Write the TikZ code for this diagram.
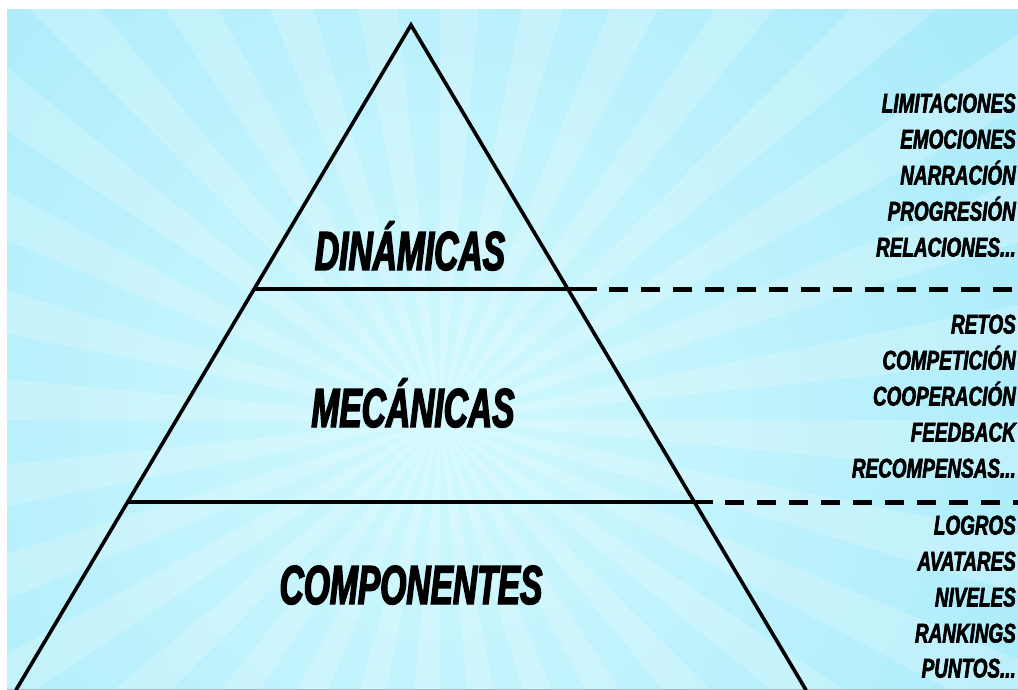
\documentclass[tikz,border=0pt]{standalone}
\usepackage{fontspec}
\newfontfamily\titlefont{Liberation Sans Bold Italic}[FakeStretch=0.61,FakeBold=2.6]
\newfontfamily\labelfont{Liberation Sans Bold Italic}[FakeStretch=0.70,FakeBold=2.2]
\definecolor{bgbase}{HTML}{A6ECFA}
\definecolor{bgcenter}{HTML}{D2F9FF}
\definecolor{bgedge}{HTML}{84DEF5}
\definecolor{rimline}{HTML}{9DBFC8}
\begin{document}
\begin{tikzpicture}[x=1pt,y=-1pt,
  title/.style={font=\titlefont\fontsize{55}{58}\selectfont, anchor=base, inner sep=0pt},
  lbl/.style={font=\labelfont\fontsize{27}{28}\selectfont, anchor=base east, inner sep=0pt},
  side/.style={line width=3.6pt, black, line cap=round},
  sepline/.style={line width=4.2pt, black},
  dashline/.style={line width=5pt, black, dash pattern=on 19pt off 13pt},
  ray/.style={white, opacity=0.2}]
\useasboundingbox (0,0) rectangle (1018,690);
\fill[white] (0,0) rectangle (1018,690);
\begin{scope}
\clip (7,10) rectangle (1018,690);
% background sunburst
\fill[bgbase] (7,10) rectangle (1018,690);
\shade[inner color=bgcenter, outer color=bgedge] (440,420) circle (1300);
\coordinate (c) at (440,420);
\foreach \a in {0,11.25,...,359} {
  \fill[ray] (c) -- +(\a:1500) -- +(\a+5.4:1500) -- cycle;
}
\draw[rimline, line width=1.2pt] (7,689.4) -- (1018,689.4);
% pyramid
\coordinate (apex) at (411,25);
\coordinate (bl) at (16,690);
\coordinate (br) at (806,690);
\coordinate (L1) at (254.2,289);
\coordinate (R1) at (597,289);
\coordinate (D1) at (609,289);
\coordinate (E1) at (1040,289);
\coordinate (L2) at (127.7,502);
\coordinate (R2) at (713,502);
\coordinate (D2) at (725,502);
\coordinate (E2) at (1040,502);
\draw[side] (bl) -- (apex) -- (br);
\draw[sepline] (L1) -- (R1);
\draw[dashline] (D1) -- (E1);
\draw[sepline] (L2) -- (R2);
\draw[dashline] (D2) -- (E2);
% titles
\node[title] (t1) at (410,270) {DINÁMICAS};
\node[title] (t2) at (413,427) {MECÁNICAS};
\node[title] (t3) at (411,604) {COMPONENTES};
% labels
\node[lbl] (l1) at (1016,112.5) {LIMITACIONES};
\node[lbl] (l2) at (1016,148.5) {EMOCIONES};
\node[lbl] (l3) at (1016,184.5) {NARRACIÓN};
\node[lbl] (l4) at (1016,220.5) {PROGRESIÓN};
\node[lbl] (l5) at (1016,256.5) {RELACIONES...};
\node[lbl] (l6) at (1016,333.5) {RETOS};
\node[lbl] (l7) at (1016,369.5) {COMPETICIÓN};
\node[lbl] (l8) at (1016,405.5) {COOPERACIÓN};
\node[lbl] (l9) at (1016,441.5) {FEEDBACK};
\node[lbl] (l10) at (1016,477.5) {RECOMPENSAS...};
\node[lbl] (l11) at (1016,534.5) {LOGROS};
\node[lbl] (l12) at (1016,570.5) {AVATARES};
\node[lbl] (l13) at (1016,606.5) {NIVELES};
\node[lbl] (l14) at (1016,642.5) {RANKINGS};
\node[lbl] (l15) at (1016,677.5) {PUNTOS...};
\end{scope}
\end{tikzpicture}
\end{document}
